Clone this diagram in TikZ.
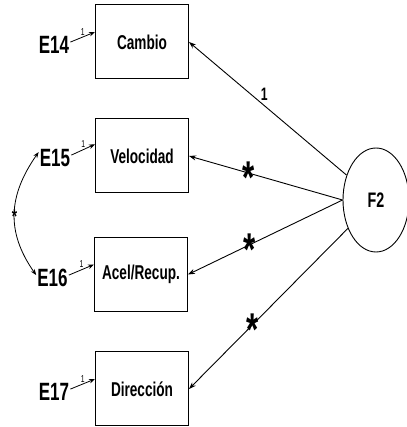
\documentclass[tikz,border=0pt]{standalone}
\usepackage{fontspec}
\setmainfont{Liberation Sans}[FakeStretch=0.68]
\usetikzlibrary{arrows.meta,shapes.geometric}

\tikzset{
  var/.style={draw, line width=1pt, minimum width=93pt, minimum height=74pt, inner sep=0pt,
    font=\bfseries\fontsize{20}{22}\selectfont},
  err/.style={inner sep=1pt, font=\bfseries\fontsize{25}{27}\selectfont},
  fac/.style={draw, ellipse, line width=0.9pt, minimum width=66pt, minimum height=104pt,
    inner sep=0pt, font=\bfseries\fontsize{21}{23}\selectfont},
  load/.style={-{Stealth[length=7pt,width=5pt]}, line width=0.9pt},
  errpath/.style={-{Stealth[length=6pt,width=4.5pt]}, line width=0.8pt},
  freepar/.style={font=\bfseries\fontsize{46}{46}\selectfont, inner sep=0pt, yshift=-5pt},
  fixpar/.style={font=\bfseries\fontsize{18}{20}\selectfont, inner sep=1pt},
  unit/.style={font=\fontsize{10}{10}\selectfont, inner sep=1.5pt},
  covstar/.style={font=\bfseries\fontsize{20}{20}\selectfont, inner sep=0pt, yshift=-3pt},
}

\begin{document}
\begin{tikzpicture}[x=1pt, y=1pt]
    \useasboundingbox (0,0) rectangle (406,427);
    % observed variables
    \node[var] (cambio) at (142,385) {Cambio};
    \node[var] (velocidad) at (142,271) {Velocidad};
    \node[var] (acel) at (141,152.5) {Acel/Recup.};
    \node[var] (direccion) at (142,38) {Dirección};
    % latent factor
    \node[fac] (f2) at (376,227) {F2};
    % error terms
    \node[err] (e14) at (54,382) {E14};
    \node[err] (e15) at (55,269) {E15};
    \node[err] (e16) at (52.5,149) {E16};
    \node[err] (e17) at (54,35) {E17};
    % loadings: first fixed to 1, rest free
    \draw[load] (f2) -- (cambio.east) node[pos=0.523, fixpar, above=4pt] {1};
    \draw[load] (f2.west) -- (velocidad.east) node[pos=0.615, freepar] {*};
    \draw[load] (f2.west) -- (acel.east) node[pos=0.6, freepar] {*};
    \draw[load] (f2) -- (direccion.east) node[pos=0.6, freepar] {*};
    % error paths
    \draw[errpath] (e14.10) -- (cambio.168) node[midway, unit, above] {1};
    \draw[errpath] (e15.10) -- (velocidad.166) node[midway, unit, above] {1};
    \draw[errpath] (e16.10) -- (acel.168) node[midway, unit, above] {1};
    \draw[errpath] (e17.10) -- (direccion.168) node[midway, unit, above] {1};
    % covariance E15 - E16
    \draw[errpath, {Stealth[length=6pt,width=4.5pt]}-{Stealth[length=6pt,width=4.5pt]}]
        (e15.160) to[out=235, in=125, looseness=1.1] node[pos=0.5, covstar] {*} (e16.170);
\end{tikzpicture}
\end{document}
